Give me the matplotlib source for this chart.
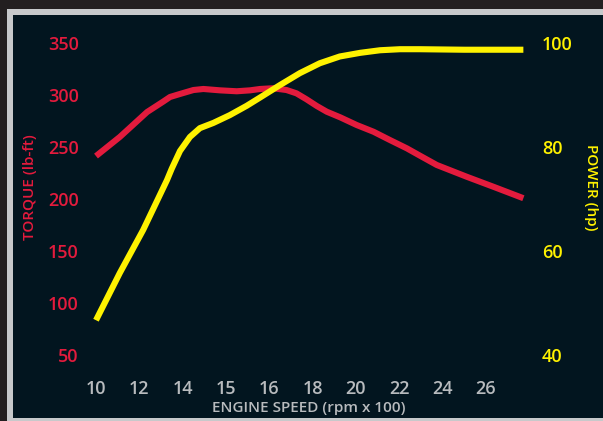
"""Torque / power curves vs engine speed, dark panel style."""
import matplotlib

matplotlib.use("Agg")
import matplotlib.pyplot as plt  # noqa: E402
from matplotlib.patches import Rectangle  # noqa: E402

# x axis is categorical: evenly spaced labels (note the extra "15")
speed_labels = ["10", "12", "14", "15", "16", "18", "20", "22", "24", "26"]

# positions along the label index
torque_pos = [0, 0.55, 1.18, 1.55, 1.71, 1.94, 2.25, 2.48, 2.86, 3.25, 3.56,
              3.79, 4.09, 4.4, 4.63, 4.86, 5.1, 5.33, 5.64, 6.02, 6.41, 6.79,
              7.18, 7.48, 7.87, 8.56, 9.18, 9.87]
torque_lbft = [241.6, 260, 284, 294, 298.5, 301.4, 305.2, 306.2, 304.9, 304,
               304.9, 306.2, 306.9, 305.2, 302, 296.3, 289.8, 284.3, 278.9,
               271.5, 265, 257, 249, 242, 233, 221.7, 212, 201]

power_pos = [0, 0.55, 1.09, 1.64, 1.75, 1.94, 2.17, 2.4, 2.71, 3.09, 3.48,
             3.79, 4.25, 4.71, 5.17, 5.63, 6.1, 6.56, 7.02, 7.48, 8.5, 9.87]
power_hp = [46.7, 55.8, 64.1, 73.7, 75.9, 79.3, 82.0, 83.7, 84.7, 86.2, 88.0,
            89.6, 92.0, 94.3, 96.2, 97.5, 98.2, 98.7, 98.9, 98.9, 98.8, 98.8]

torque_ticks = [50, 100, 150, 200, 250, 300, 350]
power_ticks = [40, 60, 80, 100]

RED = "#e31b3d"
YELLOW = "#fff200"
NAVY = "#02151f"
GREY_TXT = "#b8bbbe"
FONT = ["Open Sans", "DejaVu Sans"]

W, H = 603, 421
fig = plt.figure(figsize=(W / 100, H / 100), dpi=100, facecolor="#231f20")


def px_rect(x0, y0, x1, y1, color):
    # rectangle given in image pixels (origin top-left)
    fig.add_artist(Rectangle((x0 / W, 1 - y1 / H), (x1 - x0) / W, (y1 - y0) / H,
                             transform=fig.transFigure, color=color, lw=0, zorder=0))


px_rect(7, 9, W, H, "#c7c9cb")
px_rect(13, 15, W, 418, NAVY)

# axes box in pixels: left 85, right 535, top 30, bottom 370
L, R, T, B = 85, 535, 30, 370
ax = fig.add_axes([L / W, 1 - B / H, (R - L) / W, (B - T) / H])
ax.patch.set_visible(False)
ax2 = ax.twinx()

step = 43.3
ax.set_xlim((L - 96) / step, (R - 96) / step)
tpp = 300 / 311.5  # torque per pixel
ax.set_ylim(350 - (B - 43.5) * tpp, 350 + (43.5 - T) * tpp)
ppp = 60 / 311.5
ax2.set_ylim(100 - (B - 43.5) * ppp, 100 + (43.5 - T) * ppp)

ax.plot(torque_pos, torque_lbft, color=RED, lw=4.4,
        solid_capstyle="butt", solid_joinstyle="round")
ax2.plot(power_pos, power_hp, color=YELLOW, lw=4.4,
         solid_capstyle="butt", solid_joinstyle="round")

for a in (ax, ax2):
    for s in a.spines.values():
        s.set_visible(False)

ax.set_xticks(range(len(speed_labels)))
ax.set_xticklabels(speed_labels)
ax.set_yticks(torque_ticks)
ax2.set_yticks(power_ticks)
ax.tick_params(axis="x", length=0, pad=7, colors=GREY_TXT, labelsize=13)
ax.tick_params(axis="y", length=0, pad=4.5, colors=RED, labelsize=13)
ax2.tick_params(axis="y", length=0, pad=5, colors=YELLOW, labelsize=13)
for lab in ax.get_xticklabels() + ax.get_yticklabels() + ax2.get_yticklabels():
    lab.set_family(FONT)
    lab.set_fontweight("semibold")

fig.text(30 / W, 1 - 187 / H, "TORQUE (lb-ft)", rotation=90, color=RED,
         ha="center", va="center", fontsize=11, family=FONT, fontweight="semibold")
fig.text(591 / W, 1 - 187 / H, "POWER (hp)", rotation=-90, color=YELLOW,
         ha="center", va="center", fontsize=11, family=FONT, fontweight="semibold")
fig.text(309 / W, 1 - 408 / H, "ENGINE SPEED (rpm x 100)", color=GREY_TXT,
         ha="center", va="center", fontsize=11, family=FONT, fontweight="semibold")

fig.savefig("out.png", dpi=100, facecolor=fig.get_facecolor())
